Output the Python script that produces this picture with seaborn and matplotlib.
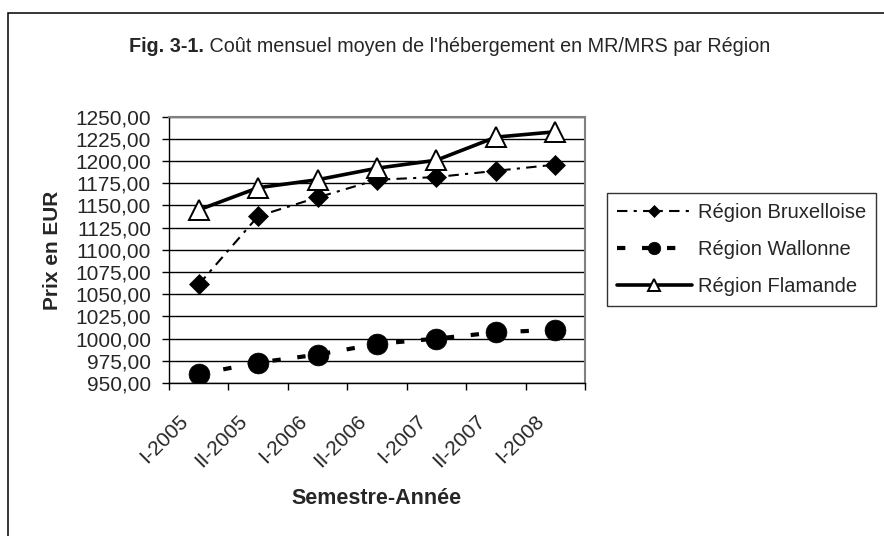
import matplotlib
matplotlib.use("Agg")
import matplotlib.pyplot as plt
import matplotlib.ticker as mticker
from matplotlib.transforms import ScaledTranslation
from matplotlib.patches import Rectangle
import seaborn as sns
import pandas as pd

# ---- data ----
semestres = ["I-2005", "II-2005", "I-2006", "II-2006", "I-2007", "II-2007", "I-2008"]
bruxelles = [1061, 1138, 1159, 1179, 1182, 1189, 1196]
wallonie = [960, 973, 982, 994, 1000, 1007, 1010]
flandre = [1145, 1170, 1179, 1192, 1201, 1227, 1233]
regions = ["Région Bruxelloise", "Région Wallonne", "Région Flamande"]
yticks = list(range(950, 1251, 25))

title_bold = "Fig. 3-1."
title_rest = " Coût mensuel moyen de l'hébergement en MR/MRS par Région"
ylabel = "Prix en EUR"
xlabel = "Semestre-Année"

df = pd.DataFrame({
    "Semestre": semestres * 3,
    "Prix": bruxelles + wallonie + flandre,
    "Region": [regions[0]] * 7 + [regions[1]] * 7 + [regions[2]] * 7,
})

sns.set_style("white")
plt.rcParams["font.family"] = ["Liberation Sans", "DejaVu Sans"]

W, H = 884, 536
fig = plt.figure(figsize=(W / 100, H / 100), dpi=100)
fig.patch.set_facecolor("white")

L, R, T, B = 169, 585, 116.7, 383
ax = fig.add_axes([L / W, 1 - B / H, (R - L) / W, (B - T) / H])

styles = {
    regions[0]: dict(marker="D", markersize=10.5, linewidth=1.5,
                     linestyle=(0, (5, 3, 1.5, 3)), markerfacecolor="black",
                     markeredgecolor="black", markeredgewidth=0.5),
    regions[1]: dict(marker="o", markersize=15, linewidth=3.0,
                     linestyle=(0, (2, 4)), markerfacecolor="black",
                     markeredgecolor="black", markeredgewidth=0.5,
                     dash_capstyle="butt"),
    regions[2]: dict(marker="^", markersize=15, linewidth=2.6,
                     linestyle="-", markerfacecolor="white",
                     markeredgecolor="black", markeredgewidth=1.4),
}

for reg in regions:
    sub = df[df["Region"] == reg]
    sns.lineplot(data=sub, x="Semestre", y="Prix", ax=ax, color="black",
                 sort=False, errorbar=None, label=reg, **styles[reg])

ax.set_xlim(-0.5, len(semestres) - 0.5)
ax.set_ylim(950, 1250)

# y axis
ax.set_yticks(yticks)
ax.yaxis.set_major_formatter(mticker.FuncFormatter(lambda v, p: f"{v:.2f}".replace(".", ",")))
ax.tick_params(axis="y", which="major", direction="out", length=5, width=1,
               color="black", pad=8, labelsize=15, left=True)
ax.grid(axis="y", color="black", linewidth=1.0)
ax.grid(axis="x", visible=False)
ax.set_axisbelow(True)

# x axis: ticks at category boundaries, labels at centres
ax.set_xticks([i - 0.5 for i in range(len(semestres) + 1)])
ax.set_xticklabels([])
ax.set_xticks(range(len(semestres)), minor=True)
ax.set_xticklabels(semestres, minor=True, rotation=45, ha="right", va="top",
                   fontsize=15)
ax.tick_params(axis="x", which="major", direction="out", length=5, width=1,
               color="black", bottom=True)
ax.tick_params(axis="x", which="minor", length=0, pad=20.5)
off = ScaledTranslation(-7 / 100, 0, fig.dpi_scale_trans)
for lab in ax.xaxis.get_minorticklabels():
    lab.set_transform(lab.get_transform() + off)

for s in ["left", "bottom"]:
    ax.spines[s].set_color("black")
    ax.spines[s].set_linewidth(1.0)
for s in ["top", "right"]:
    ax.spines[s].set_color("#808080")
    ax.spines[s].set_linewidth(1.5)

ax.set_ylabel("")
ax.set_xlabel("")
fig.text(52 / W, 1 - 250 / H, ylabel, rotation=90, ha="center", va="center",
         fontsize=15, fontweight="bold")
fig.text(377 / W, 1 - 498 / H, xlabel, ha="center", va="center",
         fontsize=15.5, fontweight="bold")

# legend
leg = ax.legend(loc="upper left", bbox_to_anchor=(607 / W, 1 - 193 / H),
                bbox_transform=fig.transFigure, fontsize=14.5, handlelength=3.7,
                handletextpad=0.3, labelspacing=0.9, borderpad=0.5,
                borderaxespad=0, markerscale=0.6, frameon=True,
                fancybox=False, shadow=False)
leg.get_frame().set_edgecolor("black")
leg.get_frame().set_linewidth(1.0)

# title (bold prefix + normal rest), centred as a whole
renderer = fig.canvas.get_renderer()
tsize = 14.2
t1 = fig.text(0, 1 - 47 / H, title_bold, fontsize=tsize, fontweight="bold",
              ha="left", va="center")
t2 = fig.text(0, 1 - 47 / H, title_rest, fontsize=tsize, ha="left", va="center")
w1 = t1.get_window_extent(renderer).width
w2 = t2.get_window_extent(renderer).width
x0 = 450 - (w1 + w2) / 2
t1.set_x(x0 / W)
t2.set_x((x0 + w1) / W)

# outer chart frame (right/bottom outside the picture)
fig.add_artist(Rectangle((8 / W, -0.2), 1.5, 1.2 - 13 / H, transform=fig.transFigure,
                         fill=False, edgecolor="black", linewidth=1.1, clip_on=False))

fig.savefig("out.png", dpi=100)
